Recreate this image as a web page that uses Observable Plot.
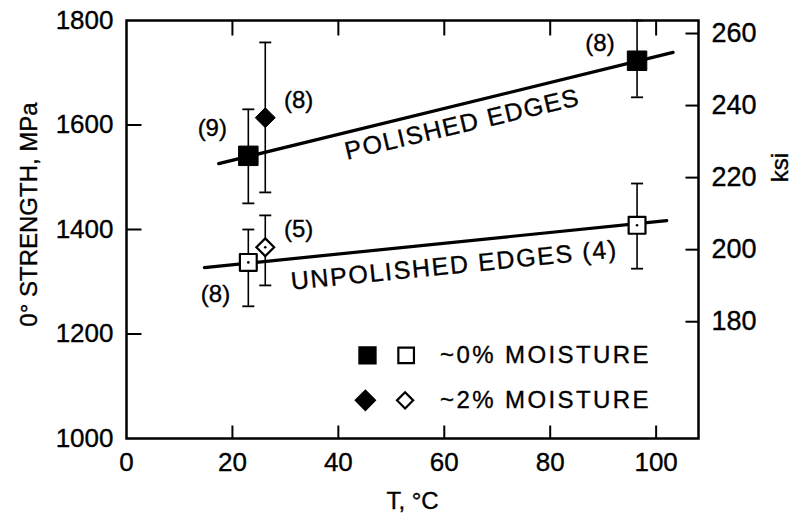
<!DOCTYPE html>
<html><head><meta charset="utf-8">
<script src="https://cdn.jsdelivr.net/npm/d3@7"></script>
<script src="https://cdn.jsdelivr.net/npm/@observablehq/plot@0.6"></script>
<style>
body{margin:0;background:#fff;}
#chart svg{font-family:"Liberation Sans",Arial,Helvetica,sans-serif;background:#fff;}
#chart svg text{stroke:black;stroke-width:0.35px;}
</style>
</head><body><div id="chart"></div>
<script>
// ---- data ----
const pointT        = [23.0, 26.2, 96.4, 23.0, 26.2, 96.4];
const pointEdge     = ["polished","polished","polished","unpolished","unpolished","unpolished"];
const pointMoisture = ["0%","2%","0%","0%","2%","0%"];
const pointStrength = [1541, 1614, 1723, 1337, 1366, 1408];
const errLow        = [1450, 1471, 1653, 1253, 1293, 1325];
const errHigh       = [1630, 1758, 1800, 1400, 1427, 1488];

const countText = ["(9)", "(8)", "(8)", "(8)", "(5)"];
const countT    = [16.2, 32.5, 89.4, 16.8, 32.5];
const countS    = [1593, 1647, 1756, 1276, 1400];

const polishedFitT = [17.4, 103.2];
const polishedFitS = [1526, 1739];
const unpolishedFitT = [14.7, 102.0];
const unpolishedFitS = [1327, 1417];

const edgeLabels = ["POLISHED EDGES", "UNPOLISHED EDGES (4)"];
const edgeLabelT = [63.4, 61.9];
const edgeLabelS = [1601, 1331];
const edgeLabelAngle = [-13.2, -5.7];

const legendText = ["~0% MOISTURE", "~2% MOISTURE"];
const legendS = [1159, 1073];
const legendFilledT = [45.5, 45.1];
const legendOpenT = [52.8, 52.6];
const legendTextT = [59.2, 59.2];

const xTicks = [0, 20, 40, 60, 80, 100];
const yTicks = [1000, 1200, 1400, 1600, 1800];
const ksiTicks = [180, 200, 220, 240, 260];
const ksiToMPa = k => k * 6.895 - 17.6;   // right-axis placement as drawn
const MPaToKsi = m => (m + 17.6) / 6.895;

// ---- tables ----
const points = pointT.map((t, i) => ({t, s: pointStrength[i], lo: errLow[i], hi: errHigh[i], edge: pointEdge[i], moist: pointMoisture[i]}));
const counts = countText.map((c, i) => ({c, t: countT[i], s: countS[i]}));
const polishedFit = polishedFitT.map((t, i) => ({t, s: polishedFitS[i]}));
const unpolishedFit = unpolishedFitT.map((t, i) => ({t, s: unpolishedFitS[i]}));
const labels = edgeLabels.map((l, i) => ({l, t: edgeLabelT[i], s: edgeLabelS[i], a: edgeLabelAngle[i]}));
const legend = legendText.map((l, i) => ({l, s: legendS[i], tf: legendFilledT[i], to: legendOpenT[i], tt: legendTextT[i]}));

const xMax = 108;
const tickUp = {draw(c){c.moveTo(0,0); c.lineTo(0,-13);}};
const tickDown = {draw(c){c.moveTo(0,0); c.lineTo(0,15);}};
const tickRight = {draw(c){c.moveTo(0,0); c.lineTo(15,0);}};
const tickLeft = {draw(c){c.moveTo(0,0); c.lineTo(-13,0);}};
const cap = {draw(c){c.moveTo(-6,0); c.lineTo(6,0);}};
const spaced = px => (index, scales, values, dims, context, next) => {
  const g = next(index, scales, values, dims, context);
  d3.select(g).selectAll("text").attr("letter-spacing", px).style("letter-spacing", px + "px");
  return g;
};

const filledSq = points.filter(d => d.edge === "polished" && d.moist === "0%");
const filledDi = points.filter(d => d.edge === "polished" && d.moist === "2%");
const openSq = points.filter(d => d.edge === "unpolished" && d.moist === "0%");
const openDi = points.filter(d => d.edge === "unpolished" && d.moist === "2%");

const chart = Plot.plot({
  width: 798, height: 519,
  marginLeft: 126, marginRight: 100, marginTop: 20, marginBottom: 81,
  x: {domain: [0, xMax]},
  y: {domain: [1000, 1800]},
  style: {fontFamily: "Liberation Sans, Arial, sans-serif", color: "black", background: "white"},
  marks: [
    Plot.axisX({ticks: xTicks, tickSize: 0, tickPadding: 14, fontSize: 26, label: null, tickFormat: d => String(d)}),
    Plot.axisY({ticks: yTicks, tickSize: 0, tickPadding: 13, fontSize: 26, label: null, tickFormat: d => String(d)}),
    Plot.axisY(ksiTicks.map(ksiToMPa), {anchor: "right", tickSize: 0, tickPadding: 13, fontSize: 27, label: null, tickFormat: d => String(Math.round(MPaToKsi(d)))}),
    // inward ticks
    Plot.dot(xTicks.slice(1), {x: d => d, y: () => 1000, symbol: tickUp, stroke: "black", strokeWidth: 2}),
    Plot.dot(xTicks.slice(1), {x: d => d, y: () => 1800, symbol: tickDown, stroke: "black", strokeWidth: 2}),
    Plot.dot(yTicks.slice(1, -1), {x: () => 0, y: d => d, symbol: tickRight, stroke: "black", strokeWidth: 2}),
    Plot.dot(ksiTicks.map(ksiToMPa), {x: () => xMax, y: d => d, symbol: tickLeft, stroke: "black", strokeWidth: 2}),
    // fits
    Plot.line(polishedFit, {x: "t", y: "s", stroke: "black", strokeWidth: 3.2}),
    Plot.line(unpolishedFit, {x: "t", y: "s", stroke: "black", strokeWidth: 3.2}),
    // error bars
    Plot.ruleX(points, {x: "t", y1: "lo", y2: "hi", stroke: "black", strokeWidth: 1.6}),
    Plot.dot(points, {x: "t", y: "lo", symbol: cap, stroke: "black", strokeWidth: 1.8}),
    Plot.dot(points, {x: "t", y: "hi", symbol: cap, stroke: "black", strokeWidth: 1.8}),
    // points
    Plot.dot(filledSq, {x: "t", y: "s", symbol: "square", r: 11, fill: "black", stroke: "black", strokeWidth: 1, strokeLinejoin: "round"}),
    Plot.dot(filledDi, {x: "t", y: "s", symbol: "diamond2", r: 9, fill: "black", stroke: "black", strokeWidth: 1}),
    Plot.dot(openSq, {x: "t", y: "s", symbol: "square", r: 9.5, fill: "white", stroke: "black", strokeWidth: 2.2, strokeLinejoin: "round"}),
    Plot.dot(openDi, {x: "t", y: "s", symbol: "diamond2", r: 8, fill: "white", stroke: "black", strokeWidth: 2.2}),
    Plot.dot(openSq.concat(openDi), {x: "t", y: "s", r: 1.3, fill: "black"}),
    // counts
    Plot.text(counts, {x: "t", y: "s", text: "c", fontSize: 24}),
    // rotated labels
    Plot.text(labels.slice(0, 1), {x: "t", y: "s", text: "l", rotate: labels[0].a, fontSize: 25, render: spaced(1.4)}),
    Plot.text(labels.slice(1), {x: "t", y: "s", text: "l", rotate: labels[1].a, fontSize: 25, render: spaced(1.7)}),
    // legend
    Plot.dot(legend.slice(0, 1), {x: "tf", y: "s", symbol: "square", r: 9.5, fill: "black", stroke: "black"}),
    Plot.dot(legend.slice(0, 1), {x: "to", y: "s", symbol: "square", r: 8.8, fill: "white", stroke: "black", strokeWidth: 2.2}),
    Plot.dot(legend.slice(1), {x: "tf", y: "s", symbol: "diamond2", r: 9, fill: "black", stroke: "black"}),
    Plot.dot(legend.slice(1), {x: "to", y: "s", symbol: "diamond2", r: 7.3, fill: "white", stroke: "black", strokeWidth: 2.2}),
    Plot.text(legend, {x: "tt", y: "s", text: "l", textAnchor: "start", fontSize: 24, render: spaced(2.4)}),
    // axis titles
    Plot.text(["T, °C"], {frameAnchor: "bottom", textAnchor: "middle", lineAnchor: "middle", dy: 63, fontSize: 24}),
    Plot.text(["0° STRENGTH, MPa"], {frameAnchor: "left", textAnchor: "middle", lineAnchor: "middle", rotate: -90, dx: -97, dy: -15, fontSize: 24}),
    Plot.text(["ksi"], {frameAnchor: "right", textAnchor: "middle", lineAnchor: "middle", rotate: -90, dx: 82, dy: -62, fontSize: 24}),
    Plot.frame({stroke: "black", strokeWidth: 2.5})
  ]
});
document.getElementById("chart").appendChild(chart);
</script>
</body></html>
